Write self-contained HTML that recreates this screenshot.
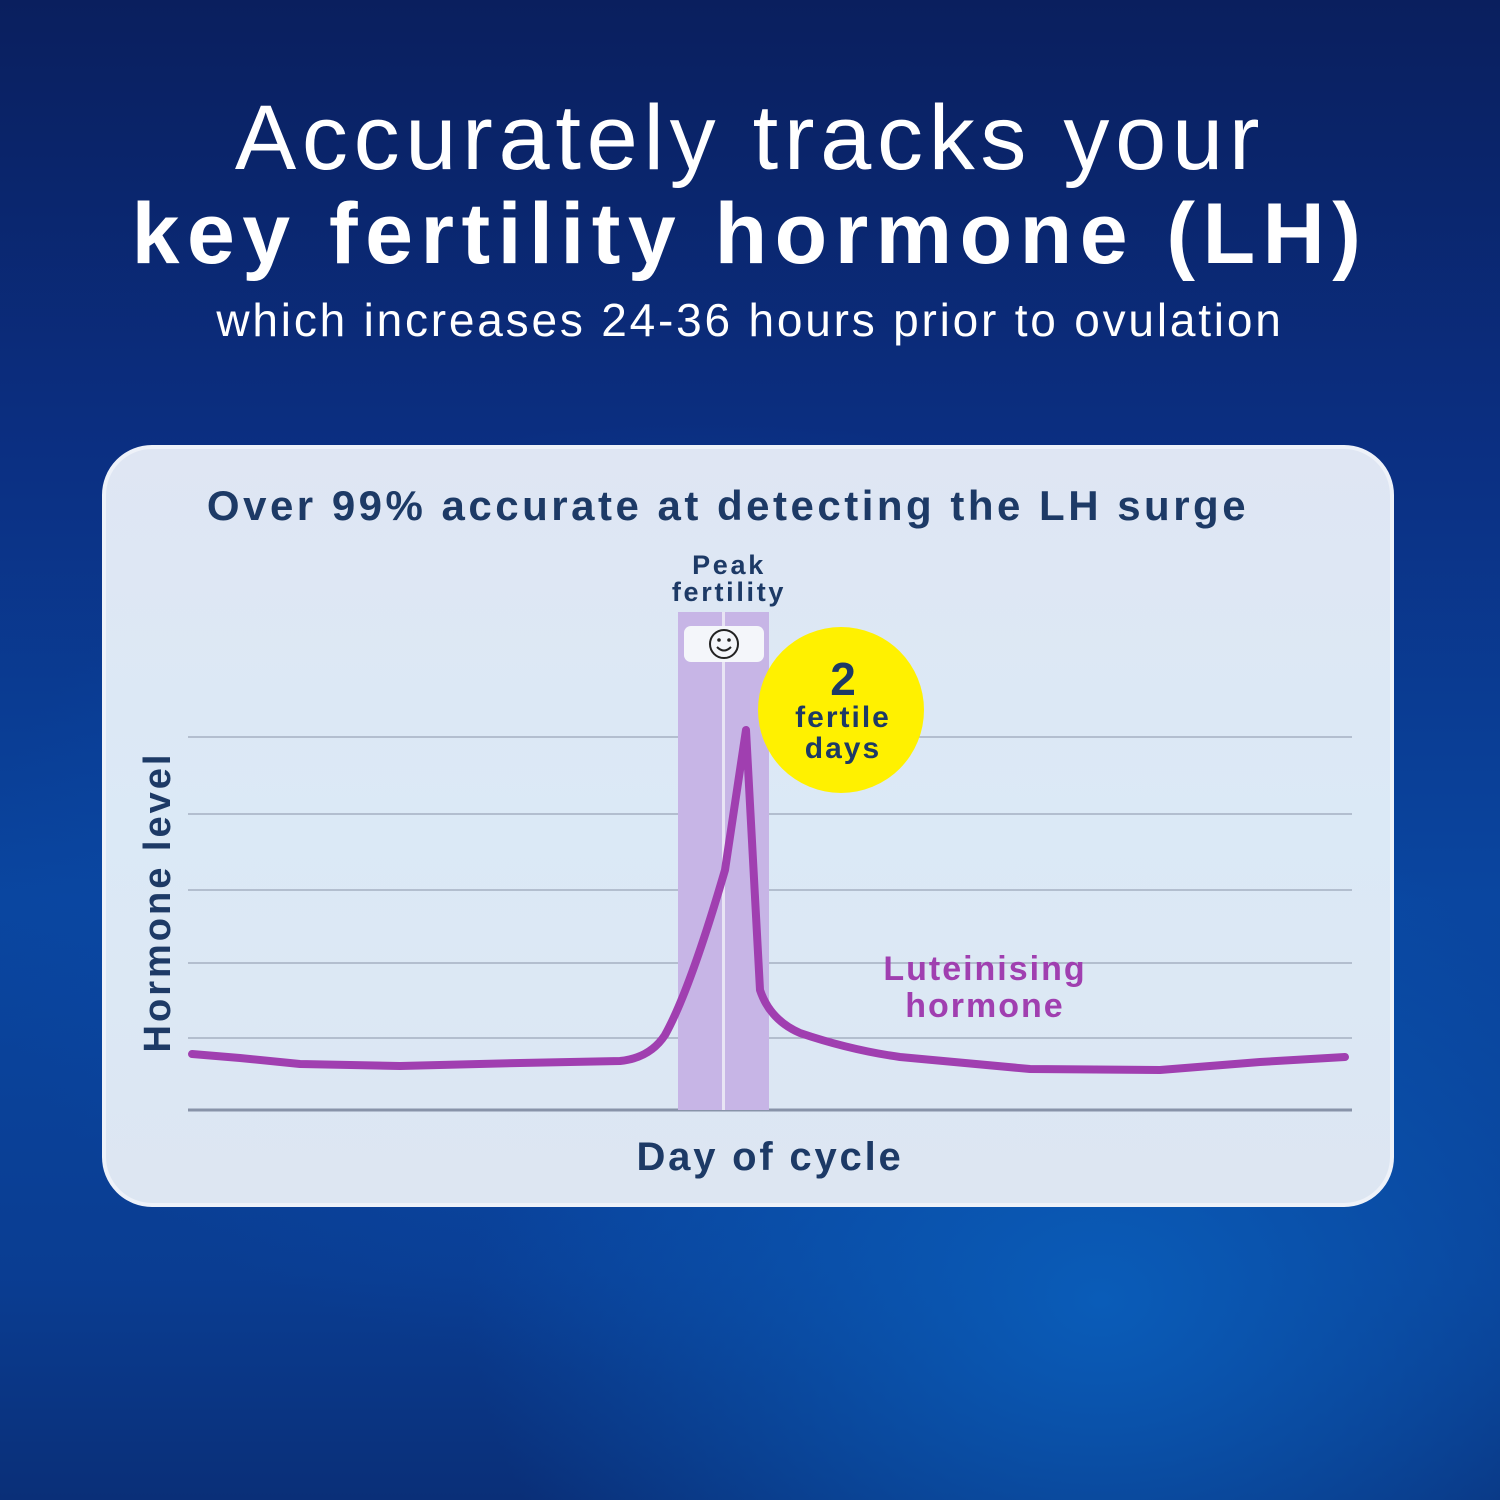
<!DOCTYPE html>
<html><head><meta charset="utf-8"><style>
html,body{margin:0;padding:0}
body{width:1500px;height:1500px;overflow:hidden;position:relative;font-family:"Liberation Sans","DejaVu Sans",sans-serif;
background:radial-gradient(ellipse 900px 700px at 1100px 1300px,#0a5cb8 0%,rgba(10,80,170,0) 70%),radial-gradient(ellipse 900px 600px at 700px 900px,#0a49a8 0%,rgba(10,60,150,0) 80%),linear-gradient(180deg,#0a1f5e 0%,#0b2f82 30%,#0a46a0 60%,#0a3d92 85%,#0a2f78 100%);}
.t{position:absolute;left:0;width:1500px;text-align:center;color:#fff}
</style></head><body>
<div class="t" style="top:88px;font-size:92px;font-weight:300;letter-spacing:5.7px;line-height:100px">Accurately tracks your</div>
<div class="t" style="top:184px;font-size:86px;font-weight:bold;letter-spacing:7.5px;line-height:100px">key fertility hormone (LH)</div>
<div class="t" style="top:292px;font-size:46px;letter-spacing:2.8px;line-height:56px">which increases 24-36 hours prior to ovulation</div>
<div style="position:absolute;left:102px;top:445px;width:1292px;height:762px;border-radius:50px;background:linear-gradient(180deg,#dfe6f3,#dbe9f6 50%,#dde6f2);border:4px solid #eef2f9;box-sizing:border-box"></div>
<svg width="1500" height="1500" style="position:absolute;left:0;top:0" font-family="Liberation Sans, DejaVu Sans, sans-serif">
<text x="728" y="520" text-anchor="middle" font-size="42" font-weight="bold" fill="#1d3a66" letter-spacing="3.5">Over 99% accurate at detecting the LH surge</text>
<g stroke="#9aa5b8" stroke-width="1.3">
<line x1="188" y1="737" x2="1352" y2="737"/><line x1="188" y1="814" x2="1352" y2="814"/><line x1="188" y1="890" x2="1352" y2="890"/><line x1="188" y1="963" x2="1352" y2="963"/><line x1="188" y1="1038" x2="1352" y2="1038"/></g>
<line x1="188" y1="1110" x2="1352" y2="1110" stroke="#8893a8" stroke-width="3"/>
<rect x="678" y="612" width="91" height="498" fill="#c7b5e6"/>
<line x1="723.5" y1="612" x2="723.5" y2="1110" stroke="#e8e4f4" stroke-width="3"/>
<rect x="684" y="626" width="80" height="36" rx="7" fill="#f4f6fa"/>
<circle cx="724" cy="644" r="14" fill="none" stroke="#222" stroke-width="2"/>
<circle cx="719" cy="640" r="1.8" fill="#222"/><circle cx="729" cy="640" r="1.8" fill="#222"/>
<path d="M717 647 Q724 654 731 647" fill="none" stroke="#222" stroke-width="2"/>
<text x="729" y="574" text-anchor="middle" font-size="27" font-weight="bold" fill="#1d3a66" letter-spacing="2.7">Peak</text>
<text x="729" y="601" text-anchor="middle" font-size="27" font-weight="bold" fill="#1d3a66" letter-spacing="2.7">fertility</text>
<path d="M192 1054 L240 1058 L300 1064 L400 1066 L520 1063 L620 1061 Q650 1058 665 1035 Q690 990 725 870 L746 730 L760 990 Q770 1020 800 1033 Q850 1050 900 1057 L1030 1069 L1160 1070 L1260 1062 L1345 1057" fill="none" stroke="#a03fb0" stroke-width="8" stroke-linejoin="round" stroke-linecap="round"/>
<circle cx="841" cy="710" r="83" fill="#fff100"/>
<text x="843" y="695" text-anchor="middle" font-size="46" font-weight="bold" fill="#1d3a66">2</text>
<text x="843" y="727" text-anchor="middle" font-size="30" font-weight="bold" fill="#1d3a66" letter-spacing="2">fertile</text>
<text x="843" y="758" text-anchor="middle" font-size="30" font-weight="bold" fill="#1d3a66" letter-spacing="2">days</text>
<text x="985" y="980" text-anchor="middle" font-size="34" font-weight="bold" fill="#a03fb0" letter-spacing="2">Luteinising</text>
<text x="985" y="1017" text-anchor="middle" font-size="34" font-weight="bold" fill="#a03fb0" letter-spacing="2">hormone</text>
<text transform="translate(170 902) rotate(-90)" text-anchor="middle" font-size="38" font-weight="bold" fill="#1d3a66" letter-spacing="3">Hormone level</text>
<text x="770" y="1170" text-anchor="middle" font-size="40" font-weight="bold" fill="#1d3a66" letter-spacing="2.8">Day of cycle</text>
</svg>
</body></html>
